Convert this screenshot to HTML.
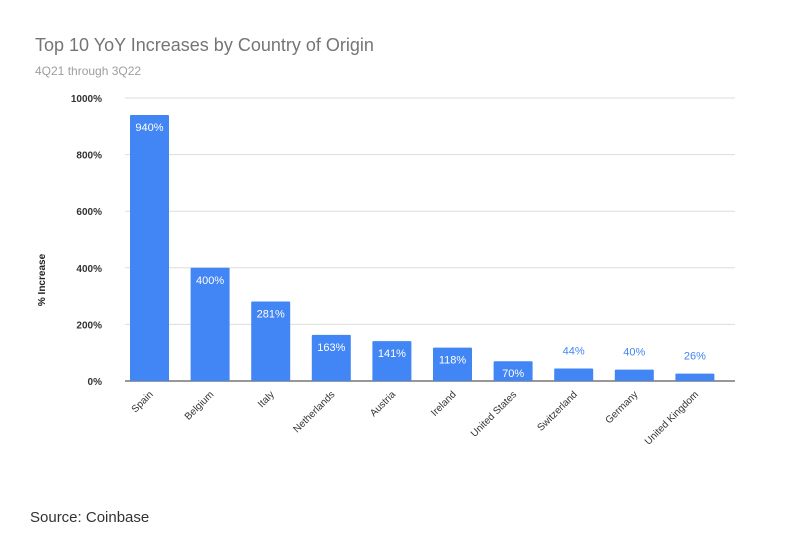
<!DOCTYPE html>
<html><head><meta charset="utf-8"><style>
body{margin:0;background:#fff;width:790px;height:530px;overflow:hidden;font-family:"Liberation Sans",sans-serif}
</style></head><body>
<svg width="790" height="530" id="chart">
<text x="35" y="51" font-size="18" fill="#757575">Top 10 YoY Increases by Country of Origin</text>
<text x="35" y="75" font-size="12" fill="#9e9e9e">4Q21 through 3Q22</text>
<text transform="translate(45,280) rotate(-90)" text-anchor="middle" font-size="10" font-weight="bold" fill="#222">% Increase</text>
<g id="grid"></g><g id="bars"></g>
<text x="30" y="522" font-size="15" fill="#333">Source: Coinbase</text>
</svg>
<script>
const categories=["Spain","Belgium","Italy","Netherlands","Austria","Ireland","United States","Switzerland","Germany","United Kingdom"];
const values=[940,400,281,163,141,118,70,44,40,26];
const ticks=[0,200,400,600,800,1000];
const NS="http://www.w3.org/2000/svg";
const x0=110,x1=735,yb=381,yt=98,step=60.6,bw=39;
const y=v=>yb-(v/1000)*(yb-yt);
const xc=i=>149.5+i*step;
function mk(t,a,p){const e=document.createElementNS(NS,t);for(const k in a)e.setAttribute(k,a[k]);p.appendChild(e);return e;}
const g=document.getElementById('grid'),b=document.getElementById('bars');
ticks.forEach(t=>{
 const l=mk('line',{x1:x0+15,x2:x1,y1:y(t),y2:y(t),stroke:t?'#ddd':'#777','stroke-width':t?1:1.5},g);
 
 
 const tx=mk('text',{x:102,y:y(t)+4,'text-anchor':'end','font-size':10,'font-weight':'bold',fill:'#333'},g);
 tx.textContent=t+'%';
 
 
});
values.forEach((v,i)=>{
 const r=mk('rect',{x:xc(i)-bw/2,y:y(v),width:bw,height:yb-y(v),fill:'#4285f4',rx:1},b);
 
 
 const inside=v>=60;
 const lt=mk('text',{x:xc(i),y:inside?y(v)+16:y(v)-14,'text-anchor':'middle','font-size':11,fill:inside?'#fff':'#4285f4'},b);
 lt.textContent=v+'%';
 
 
 const c=mk('text',{transform:`translate(${xc(i)+4},${yb+14}) rotate(-45)`,'text-anchor':'end','font-size':10,fill:'#333'},b);
 c.textContent=categories[i];
 
 
});
</script>
</body></html>
